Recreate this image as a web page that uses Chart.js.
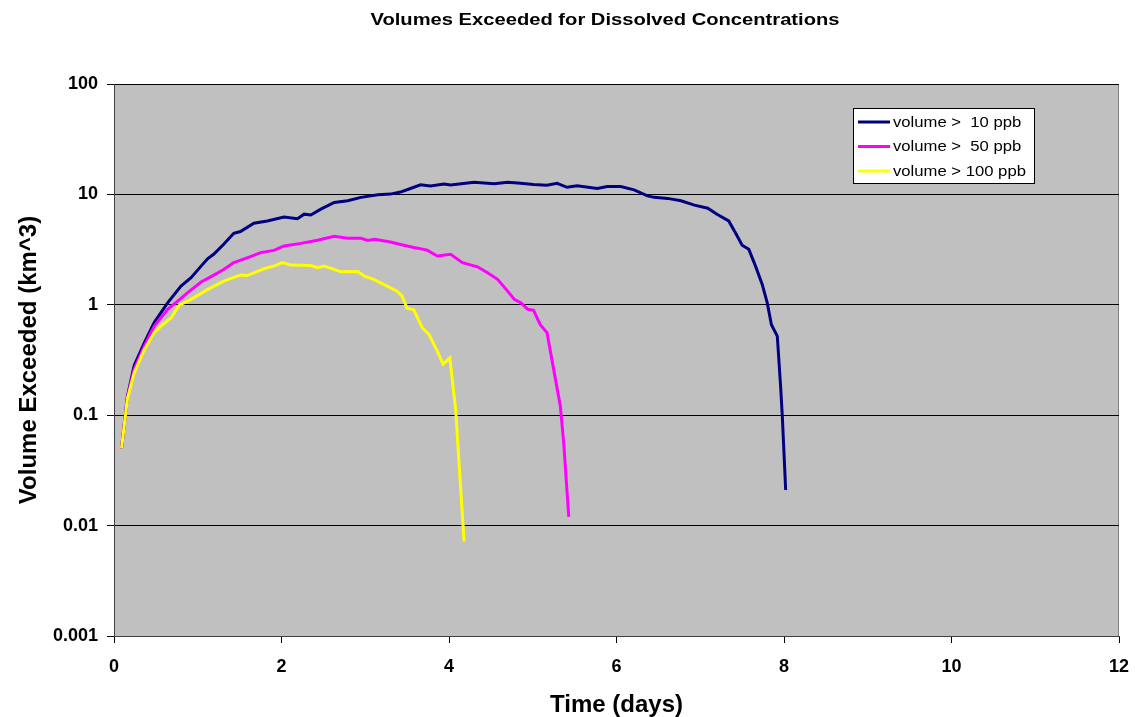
<!DOCTYPE html>
<html>
<head>
<meta charset="utf-8">
<script src="https://cdn.jsdelivr.net/npm/chart.js@4/dist/chart.umd.min.js"></script>
<style>
  html, body { margin: 0; padding: 0; background: #ffffff; }
  #wrap { width: 1135px; height: 717px; }
</style>
</head>
<body>
<div id="wrap"><canvas id="volChart" width="1135" height="717"></canvas></div>
<script>
// time (days) and volume exceeded (km^3)
const days10 = [0.09, 0.16, 0.24, 0.36, 0.48, 0.64, 0.80, 0.92, 1.04, 1.12, 1.19, 1.31, 1.43, 1.51, 1.67, 1.83, 2.03, 2.19, 2.27, 2.35, 2.47, 2.63, 2.79, 2.95, 3.15, 3.30, 3.42, 3.54, 3.66, 3.78, 3.94, 4.02, 4.30, 4.54, 4.70, 4.82, 5.01, 5.17, 5.29, 5.41, 5.53, 5.77, 5.89, 6.05, 6.21, 6.37, 6.45, 6.61, 6.77, 6.93, 7.09, 7.20, 7.34, 7.42, 7.50, 7.58, 7.66, 7.74, 7.80, 7.85, 7.92, 7.96, 7.98, 8.02];
const vol10 = [0.05, 0.148, 0.28, 0.45, 0.69, 1.04, 1.48, 1.76, 2.24, 2.62, 2.87, 3.53, 4.45, 4.61, 5.48, 5.75, 6.25, 6.03, 6.62, 6.5, 7.35, 8.46, 8.75, 9.4, 9.92, 10.06, 10.5, 11.3, 12.2, 11.9, 12.4, 12.2, 12.9, 12.5, 12.9, 12.7, 12.3, 12.1, 12.6, 11.6, 12.0, 11.3, 11.8, 11.8, 11.0, 9.7, 9.4, 9.2, 8.75, 8.0, 7.5, 6.6, 5.75, 4.5, 3.46, 3.18, 2.24, 1.53, 1.04, 0.66, 0.52, 0.18, 0.097, 0.021];

const days50 = [0.09, 0.16, 0.24, 0.36, 0.48, 0.64, 0.76, 0.88, 1.04, 1.16, 1.31, 1.43, 1.63, 1.75, 1.91, 2.03, 2.23, 2.43, 2.63, 2.79, 2.95, 3.03, 3.11, 3.30, 3.46, 3.58, 3.74, 3.86, 4.02, 4.16, 4.34, 4.46, 4.58, 4.70, 4.78, 4.86, 4.94, 5.01, 5.09, 5.17, 5.25, 5.33, 5.37, 5.43];
const vol50 = [0.05, 0.145, 0.26, 0.42, 0.64, 0.91, 1.08, 1.29, 1.61, 1.80, 2.09, 2.41, 2.73, 2.97, 3.11, 3.41, 3.6, 3.84, 4.17, 4.0, 4.0, 3.82, 3.92, 3.71, 3.46, 3.3, 3.13, 2.77, 2.87, 2.41, 2.21, 1.95, 1.70, 1.33, 1.12, 1.04, 0.91, 0.89, 0.66, 0.56, 0.26, 0.12, 0.056, 0.012];

const days100 = [0.09, 0.16, 0.24, 0.36, 0.48, 0.58, 0.68, 0.78, 0.92, 1.12, 1.31, 1.51, 1.59, 1.79, 1.91, 2.01, 2.11, 2.35, 2.43, 2.51, 2.71, 2.91, 2.99, 3.10, 3.22, 3.38, 3.44, 3.50, 3.58, 3.68, 3.76, 3.86, 3.93, 4.01, 4.08, 4.12, 4.18];
const vol100 = [0.05, 0.14, 0.24, 0.39, 0.56, 0.66, 0.76, 0.99, 1.12, 1.38, 1.64, 1.86, 1.84, 2.12, 2.24, 2.41, 2.29, 2.27, 2.17, 2.24, 1.99, 2.0, 1.82, 1.70, 1.53, 1.33, 1.2, 0.93, 0.9, 0.62, 0.54, 0.38, 0.29, 0.33, 0.112, 0.037, 0.0072];

const seriesNames = ['volume >  10 ppb', 'volume >  50 ppb', 'volume > 100 ppb'];
const seriesColors = ['#000080', '#ff00ff', '#ffff00'];
const yTicks = [0.001, 0.01, 0.1, 1, 10, 100];
const xTicks = [0, 2, 4, 6, 8, 10, 12];

function toPoints(xs, ys) {
  return xs.map((x, i) => ({ x: x, y: ys[i] }));
}

const FONT = 'Arial, "Liberation Sans", sans-serif';

// text a bit wider than normal, like the original picture
function wideText(ctx, text, x, y, stretch) {
  ctx.save();
  ctx.translate(x, y);
  ctx.scale(stretch, 1);
  ctx.fillText(text, 0, 0);
  ctx.restore();
}

// grey plot area + frame
const plotBack = {
  id: 'plotBack',
  beforeDraw(chart) {
    const a = chart.chartArea, ctx = chart.ctx;
    ctx.save();
    ctx.fillStyle = '#c0c0c0';
    ctx.fillRect(a.left, a.top, a.right - a.left, a.bottom - a.top);
    ctx.strokeStyle = '#808080';
    ctx.lineWidth = 1;
    ctx.strokeRect(a.left + 0.5, a.top + 0.5, a.right - a.left - 1, a.bottom - a.top);
    ctx.restore();
  }
};

// chart title and boxed legend, drawn like the original
const boxLegend = {
  id: 'boxLegend',
  afterDraw(chart) {
    const ctx = chart.ctx;
    ctx.save();
    ctx.fillStyle = '#000';
    ctx.font = 'bold 16px ' + FONT;
    ctx.textAlign = 'center';
    ctx.textBaseline = 'middle';
    wideText(ctx, 'Volumes Exceeded for Dissolved Concentrations', 605, 21, 1.26);

    const bx = 853.5, by = 108.5, bw = 181, bh = 75;
    ctx.fillStyle = '#fff';
    ctx.fillRect(bx, by, bw, bh);
    ctx.strokeStyle = '#000';
    ctx.lineWidth = 1;
    ctx.strokeRect(bx, by, bw, bh);
    ctx.font = '14px ' + FONT;
    ctx.textAlign = 'left';
    const rows = [122, 146.5, 171];
    seriesNames.forEach((name, i) => {
      ctx.strokeStyle = seriesColors[i];
      ctx.lineWidth = 3;
      ctx.beginPath();
      ctx.moveTo(858, rows[i]);
      ctx.lineTo(890, rows[i]);
      ctx.stroke();
      ctx.fillStyle = '#000';
      wideText(ctx, name, 893, rows[i] + 1, 1.19);
    });
    ctx.restore();
  }
};

const lineData = {
  datasets: [
    { label: seriesNames[0], data: toPoints(days10, vol10), borderColor: seriesColors[0], order: 2 },
    { label: seriesNames[1], data: toPoints(days50, vol50), borderColor: seriesColors[1], order: 1 },
    { label: seriesNames[2], data: toPoints(days100, vol100), borderColor: seriesColors[2], order: 0 }
  ]
};

const lineConfig = {
  type: 'line',
  data: lineData,
  options: {
    responsive: false,
    animation: false,
    devicePixelRatio: 1,
    layout: { padding: { top: 84, right: 16, left: 0, bottom: 0 } },
    elements: {
      line: { borderWidth: 3, tension: 0, fill: false },
      point: { radius: 0, hoverRadius: 0 }
    },
    plugins: {
      legend: { display: false },
      title: { display: false },
      tooltip: { enabled: false }
    },
    scales: {
      x: {
        type: 'linear',
        min: 0,
        max: 12,
        afterFit: function(scale) {
          scale.height = 81;
          scale.paddingLeft = 0;
          scale.paddingRight = 0;
        },
        afterBuildTicks: function(scale) { scale.ticks = xTicks.map(v => ({ value: v })); },
        border: { color: '#404040', width: 1 },
        grid: { drawOnChartArea: false, drawTicks: true, tickLength: 7, color: '#000' },
        ticks: {
          color: '#000',
          padding: 13,
          maxRotation: 0,
          font: { family: FONT, size: 18, weight: 'bold' }
        },
        title: {
          display: true,
          text: 'Time (days)',
          color: '#000',
          padding: { top: 0, bottom: -3 },
          font: { family: FONT, size: 24, weight: 'bold' }
        }
      },
      y: {
        type: 'logarithmic',
        min: 0.001,
        max: 100,
        afterFit: function(scale) {
          scale.width = 114;
          scale.paddingTop = 0;
          scale.paddingBottom = 0;
        },
        afterBuildTicks: function(scale) { scale.ticks = yTicks.map(v => ({ value: v })); },
        border: { color: '#404040', width: 1 },
        grid: { color: '#000', lineWidth: 1, drawTicks: true, tickLength: 7 },
        ticks: {
          color: '#000',
          padding: 9,
          font: { family: FONT, size: 18, weight: 'bold' },
          callback: function(value) { return String(value); }
        },
        title: {
          display: true,
          text: 'Volume Exceeded (km^3)',
          color: '#000',
          padding: { top: 15, bottom: 0 },
          font: { family: FONT, size: 24, weight: 'bold' }
        }
      }
    }
  },
  plugins: [plotBack, boxLegend]
};

new Chart(document.getElementById('volChart').getContext('2d'), lineConfig);
</script>
</body>
</html>
